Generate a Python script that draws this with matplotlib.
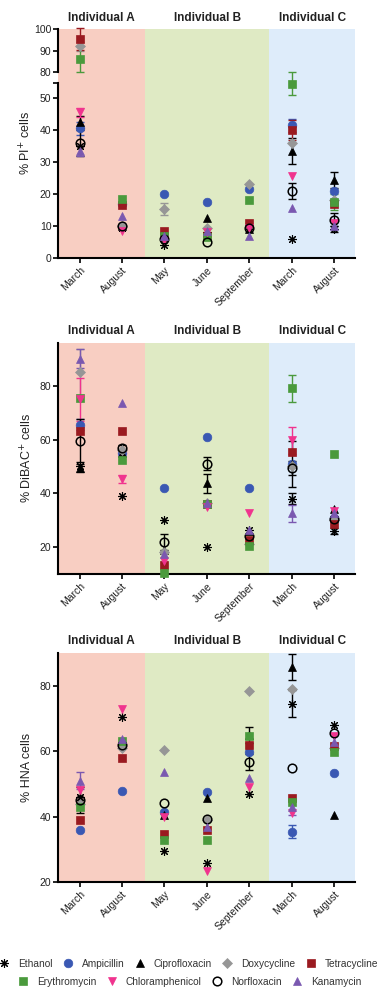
import numpy as np
import matplotlib
matplotlib.use("Agg")
import matplotlib.pyplot as plt
from matplotlib.lines import Line2D
import matplotlib.transforms as mtransforms

plt.rcParams['font.family'] = ['Liberation Sans', 'DejaVu Sans']

months = ["March", "August", "May", "June", "September", "March", "August"]
individuals = ["Individual A", "Individual B", "Individual C"]
drugs = ["Ethanol", "Ampicillin", "Ciprofloxacin", "Doxycycline", "Tetracycline",
         "Erythromycin", "Chloramphenicol", "Norfloxacin", "Kanamycin"]

# % PI+ cells
pi_ethanol = [35, 9.5, 4, 8, 10, 6, 9]
pi_ampicillin = [40.5, 17, 20, 17.6, 21.5, 41.5, 21]
pi_cipro = [42.5, 10, 6.5, 12.5, 9, 33.5, 24.5]
pi_doxy = [92, 10, 15.3, 9.5, 23, 36, 18]
pi_tetra = [95.5, 16.5, 8.5, 7, 11, 40, 17]
pi_erythro = [86, 18.5, 7, 6.5, 18, 54.5, 17.5]
pi_chloram = [45.5, 8.5, 5.5, 8, 9.5, 25.5, 11]
pi_norflox = [36, 10, 6, 5, 9.5, 21, 12]
pi_kana = [33.5, 13, 7, 8.5, 7, 15.5, 10]

pi_err_ethanol = [0, 0, 0, 0, 0, 0, 1]
pi_err_ampicillin = [2, 0, 0, 0, 0, 2, 0]
pi_err_cipro = [2, 0, 0, 0, 0, 4, 2.5]
pi_err_doxy = [2, 0, 2, 0, 0, 0, 0]
pi_err_tetra = [5, 0, 0, 0, 0, 3, 0]
pi_err_erythro = [6, 0, 0, 0, 0, 3.5, 2.5]
pi_err_chloram = [1.5, 0, 0, 0, 0, 0, 0]
pi_err_norflox = [4, 0, 0, 0, 0, 2.5, 2]
pi_err_kana = [1.5, 0, 0, 0, 0, 0, 0]

# % DiBAC+ cells
di_ethanol = [50, 39, 30, 20, 26.5, 38, 26]
di_ampicillin = [65.5, 55, 42, 61, 41.8, 51, 31]
di_cipro = [49.5, 55, 19, 43.8, 26, 51, 34]
di_doxy = [85, 56, 18, 36.5, 21, 50, 30]
di_tetra = [63, 63, 13.5, 36, 22.5, 55.5, 28.5]
di_erythro = [75.5, 52.5, 10.5, 36, 20.5, 79, 54.5]
di_chloram = [75, 45.5, 15, 35, 32.8, 59.8, 33.5]
di_norflox = [59.5, 57, 22, 51, 24, 49.5, 30.5]
di_kana = [90, 73.5, 17.5, 36.5, 26.5, 32.5, 32.5]

di_err_ethanol = [0, 0, 0, 0, 0, 2, 1]
di_err_ampicillin = [2, 1, 0, 0, 0, 0, 0]
di_err_cipro = [1.5, 0, 0, 3.5, 0, 8.5, 0]
di_err_doxy = [8.5, 0, 0, 0, 0, 0, 0]
di_err_tetra = [0, 0, 0, 0, 0, 0, 0]
di_err_erythro = [0, 0, 0, 0, 0, 5, 0]
di_err_chloram = [8, 1.5, 0, 0, 0, 5, 0]
di_err_norflox = [8, 1, 3, 2.5, 0, 2.5, 0]
di_err_kana = [3.5, 0, 0, 0, 0, 3, 0]

# % HNA cells
hna_ethanol = [46, 70.5, 29.5, 26, 46.8, 74.5, 68]
hna_ampicillin = [36, 47.7, 41.5, 47.4, 59.8, 35.4, 53.4]
hna_cipro = [45, 62.5, 40.5, 45.8, 65, 85.7, 40.5]
hna_doxy = [44, 61, 60.3, 39, 78.4, 79, 61]
hna_tetra = [39, 57.8, 34.6, 36, 61.8, 45.8, 61.5]
hna_erythro = [43, 63, 33, 32.9, 64.5, 44.5, 59.8]
hna_chloram = [48, 72.7, 40, 23.3, 49, 41, 64.5]
hna_norflox = [45, 62, 44.1, 39.2, 56.7, 54.7, 65.4]
hna_kana = [51, 63.6, 53.7, 37, 51.7, 43, 62.8]

hna_err_ethanol = [0, 0, 0, 0, 0, 4, 0]
hna_err_ampicillin = [0, 0, 0, 0, 0, 2, 0]
hna_err_cipro = [0, 0, 0, 0, 2.5, 4, 0]
hna_err_doxy = [0, 0, 0, 0, 0, 0, 0]
hna_err_tetra = [0, 0, 0, 0, 0, 0, 0]
hna_err_erythro = [0, 0, 0, 0, 0, 0, 0]
hna_err_chloram = [0, 0, 0, 0, 0, 0, 0]
hna_err_norflox = [4, 0, 0, 0, 2.5, 0, 0]
hna_err_kana = [2.5, 0, 0, 0, 0, 2.5, 0]

pi_vals = [pi_ethanol, pi_ampicillin, pi_cipro, pi_doxy, pi_tetra, pi_erythro, pi_chloram, pi_norflox, pi_kana]
pi_errs = [pi_err_ethanol, pi_err_ampicillin, pi_err_cipro, pi_err_doxy, pi_err_tetra, pi_err_erythro, pi_err_chloram, pi_err_norflox, pi_err_kana]
di_vals = [di_ethanol, di_ampicillin, di_cipro, di_doxy, di_tetra, di_erythro, di_chloram, di_norflox, di_kana]
di_errs = [di_err_ethanol, di_err_ampicillin, di_err_cipro, di_err_doxy, di_err_tetra, di_err_erythro, di_err_chloram, di_err_norflox, di_err_kana]
hna_vals = [hna_ethanol, hna_ampicillin, hna_cipro, hna_doxy, hna_tetra, hna_erythro, hna_chloram, hna_norflox, hna_kana]
hna_errs = [hna_err_ethanol, hna_err_ampicillin, hna_err_cipro, hna_err_doxy, hna_err_tetra, hna_err_erythro, hna_err_chloram, hna_err_norflox, hna_err_kana]

styles = {
    "Ethanol": dict(marker=(8, 2, 0), color="black", mfc="black", ms=6.2, mew=0.8),
    "Ampicillin": dict(marker="o", color="#3A58B3", mfc="#3A58B3", ms=6.2, mew=0),
    "Ciprofloxacin": dict(marker="^", color="black", mfc="black", ms=6.2, mew=0),
    "Doxycycline": dict(marker="D", color="#969696", mfc="#969696", ms=4.6, mew=0),
    "Tetracycline": dict(marker="s", color="#9A1A20", mfc="#9A1A20", ms=5.8, mew=0),
    "Erythromycin": dict(marker="s", color="#4A9A3C", mfc="#4A9A3C", ms=5.8, mew=0),
    "Chloramphenicol": dict(marker="v", color="#F0338E", mfc="#F0338E", ms=6.2, mew=0),
    "Norfloxacin": dict(marker="o", color="black", mfc="none", ms=6.2, mew=1.1),
    "Kanamycin": dict(marker="^", color="#7A58B0", mfc="#7A58B0", ms=6.2, mew=0),
}

bg_spans = [(-0.5, 1.55, "#F8CEC2"), (1.55, 4.47, "#DFEAC4"), (4.47, 6.5, "#DEECFA")]
title_x = [0.525, 3.01, 5.485]

W, H = 385, 994
fig = plt.figure(figsize=(W / 100, H / 100), dpi=100)

XL, XR = 58.3, 355.5


def fax(top, bottom):
    return [XL / W, 1 - bottom / H, (XR - XL) / W, (bottom - top) / H]


x = np.arange(len(months))


def draw_series(ax, vals, errs, lo, hi):
    for d, v, e in zip(drugs, vals, errs):
        st = styles[d]
        v = np.array(v, float)
        e = np.array(e, float)
        m = (v >= lo) & (v <= hi)
        me = m & (e > 0)
        if me.any():
            ax.errorbar(x[me], v[me], yerr=e[me], fmt="none", ecolor=st["color"],
                        elinewidth=1.0, capsize=3, capthick=1.0, clip_on=False, zorder=3)
        if m.any():
            ax.plot(x[m], v[m], linestyle="none", marker=st["marker"], color=st["color"],
                    mfc=st["mfc"], mec=st["color"], ms=st["ms"], mew=st["mew"] if st["mew"] else 0.5,
                    clip_on=False, zorder=4)


def style_axis(ax, show_x=True):
    for s in ["top", "right"]:
        ax.spines[s].set_visible(False)
    ax.spines["left"].set_linewidth(1.5)
    ax.spines["bottom"].set_linewidth(1.5)
    ax.tick_params(axis="y", labelsize=7.5, width=1.2, length=3.5, pad=1.5, labelcolor="#222222")
    ax.tick_params(axis="x", labelsize=7.5, width=1.2, length=3.5, pad=1.5, labelcolor="#222222")
    ax.set_xlim(-0.5, 6.5)
    ax.patch.set_alpha(0)
    if show_x:
        ax.set_xticks(x)
        ax.set_xticklabels(months, rotation=45, ha="right", rotation_mode="anchor")
    else:
        ax.spines["bottom"].set_visible(False)
        ax.set_xticks([])


def background(top, bottom):
    bg = fig.add_axes(fax(top, bottom), zorder=0)
    bg.set_xlim(-0.5, 6.5)
    bg.set_ylim(0, 1)
    for a, b, c in bg_spans:
        bg.axvspan(a, b, color=c, lw=0)
    bg.axis("off")
    return bg


def titles(ax, top_px):
    trans = mtransforms.blended_transform_factory(ax.transData, fig.transFigure)
    for tx, t in zip(title_x, individuals):
        ax.text(tx, 1 - (top_px - 11.5) / H, t, transform=trans, ha="center", va="center",
                fontsize=8.5, fontweight="bold", color="#222222")


# ---------- Panel 1 (broken axis) ----------
bg1 = background(29.3, 258)
ax_up = fig.add_axes(fax(29.3, 72.3), zorder=2)
ax_lo = fig.add_axes(fax(83.3, 258), zorder=2)
style_axis(ax_up, show_x=False)
style_axis(ax_lo, show_x=True)
ax_up.set_ylim(80, 100)
ax_up.set_yticks([80, 90, 100])
ax_lo.set_ylim(0, 54.6)
ax_lo.set_yticks([0, 10, 20, 30, 40, 50])
ax_lo.set_yticks([54.6], minor=True)
ax_lo.tick_params(axis="y", which="minor", length=3.5, width=1.2)
draw_series(ax_up, pi_vals, pi_errs, 70, 100)
draw_series(ax_lo, pi_vals, pi_errs, 0, 60)
titles(bg1, 29.3)
fig.text(26 / W, 1 - 143 / H, "% PI$^{+}$ cells", rotation=90, ha="center", va="center", fontsize=9, color="#222222")

# ---------- Panel 2 ----------
bg2 = background(343, 574)
ax2 = fig.add_axes(fax(343, 574), zorder=2)
style_axis(ax2)
ax2.set_ylim(10, 95.9)
ax2.set_yticks([20, 40, 60, 80])
draw_series(ax2, di_vals, di_errs, 0, 100)
titles(bg2, 343)
fig.text(27 / W, 1 - 458 / H, "% DiBAC$^{+}$ cells", rotation=90, ha="center", va="center", fontsize=9, color="#222222")

# ---------- Panel 3 ----------
bg3 = background(652.7, 882.3)
ax3 = fig.add_axes(fax(652.7, 882.3), zorder=2)
style_axis(ax3)
ax3.set_ylim(20, 90)
ax3.set_yticks([20, 40, 60, 80])
draw_series(ax3, hna_vals, hna_errs, 0, 100)
titles(bg3, 652.7)
fig.text(27 / W, 1 - 767 / H, "% HNA cells", rotation=90, ha="center", va="center", fontsize=9, color="#222222")

# ---------- Legend ----------
def handle(d):
    st = styles[d]
    return Line2D([], [], linestyle="none", marker=st["marker"], color=st["color"],
                  mfc=st["mfc"], mec=st["color"], ms=st["ms"], mew=st["mew"] if st["mew"] else 0.5)

row1 = drugs[:5]
row2 = drugs[5:]
leg1 = fig.legend([handle(d) for d in row1], row1, loc="center", bbox_to_anchor=(0.49, 1 - 964 / H),
                  ncol=5, frameon=False, fontsize=7.3, handlelength=1.0, handletextpad=0.9,
                  columnspacing=1.0, borderpad=0, borderaxespad=0)
leg2 = fig.legend([handle(d) for d in row2], row2, loc="center", bbox_to_anchor=(0.493, 1 - 982 / H),
                  ncol=4, frameon=False, fontsize=7.3, handlelength=1.0, handletextpad=0.9,
                  columnspacing=1.0, borderpad=0, borderaxespad=0)
for lg in (leg1, leg2):
    for t in lg.get_texts():
        t.set_color("#333333")

fig.savefig("out.png", dpi=100)
